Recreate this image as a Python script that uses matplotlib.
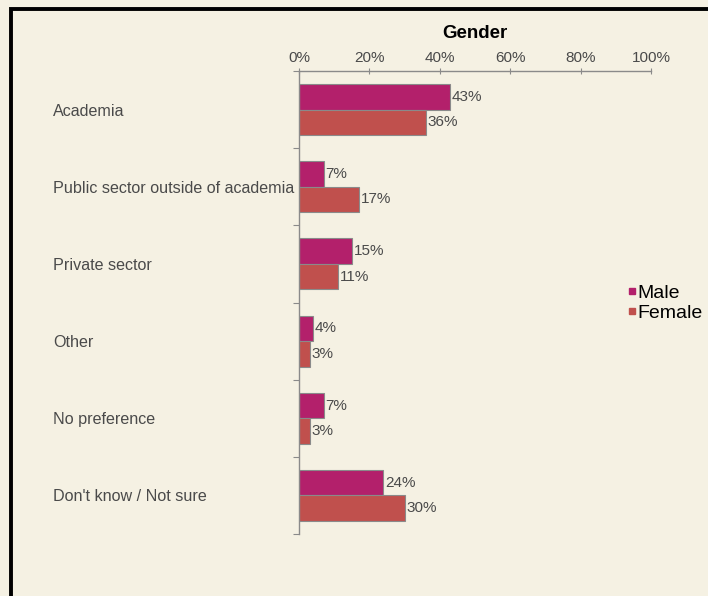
import matplotlib
matplotlib.use("Agg")
import matplotlib.pyplot as plt
from matplotlib.patches import Rectangle
from matplotlib.lines import Line2D
import numpy as np

categories = ["Academia", "Public sector outside of academia", "Private sector",
              "Other", "No preference", "Don't know / Not sure"]
male = [43, 7, 15, 4, 7, 24]
female = [36, 17, 11, 3, 3, 30]
xticks = [0, 20, 40, 60, 80, 100]
xtick_labels = ["0%", "20%", "40%", "60%", "80%", "100%"]
series_names = ["Male", "Female"]

bg = "#F5F1E3"
c_male = "#B3206B"
c_female = "#C0504D"
txt = "#4a4a4a"

plt.rcParams['font.family'] = ['Liberation Sans', 'DejaVu Sans']

W, H = 708, 596
fig = plt.figure(figsize=(W/100, H/100), dpi=100, facecolor=bg)
ax = fig.add_axes([299/W, 1-534/H, (651-299)/W, (534-71)/H])
ax.set_facecolor(bg)

y = np.arange(len(categories))
h = 0.33
ax.barh(y - h/2, male, height=h, color=c_male, edgecolor="#8a8a8a", linewidth=0.8)
ax.barh(y + h/2, female, height=h, color=c_female, edgecolor="#8a8a8a", linewidth=0.8)

for i in range(len(categories)):
    ax.text(male[i] + 0.5, y[i] - h/2, f"{male[i]}%", va="center", ha="left",
            fontsize=11, color=txt)
    ax.text(female[i] + 0.5, y[i] + h/2, f"{female[i]}%", va="center", ha="left",
            fontsize=11, color=txt)

ax.set_xlim(0, 100)
ax.set_ylim(len(categories) - 0.5, -0.5)
ax.xaxis.tick_top()
ax.set_xticks(xticks)
ax.set_xticklabels(xtick_labels, fontsize=11, color=txt)
ax.tick_params(axis='x', direction='inout', length=5, color="#8a8a8a", pad=2)

ax.set_yticks(np.arange(len(categories) + 1) - 0.5)
ax.set_yticklabels([])
ax.tick_params(axis='y', which='major', direction='out', length=4, color="#8a8a8a")
ax.set_yticks(y, minor=True)
ax.set_yticklabels(categories, minor=True, fontsize=11.6, color=txt, ha='left')
ax.tick_params(axis='y', which='minor', length=0, pad=(299-53)*0.72)

for s in ["right", "bottom"]:
    ax.spines[s].set_visible(False)
for s in ["left", "top"]:
    ax.spines[s].set_color("#8a8a8a")
    ax.spines[s].set_linewidth(1.0)

fig.text(475/W, 1-34/H, "Gender", ha="center", va="center", fontsize=13.5,
         fontweight="bold", color="black")

handles = [Line2D([], [], marker='s', linestyle='none', markersize=4, color=c) for c in (c_male, c_female)]
fig.legend(handles, series_names, loc="center left", bbox_to_anchor=(629/W, 1-303/H),
           frameon=False, fontsize=14, handlelength=0.35, handletextpad=0.1,
           labelspacing=0.12, borderaxespad=0, borderpad=0)

fig.patches.append(Rectangle((10.5/W, -0.1), 1.2, 1 - 8.5/H + 0.1, transform=fig.transFigure,
                             fill=False, edgecolor="black", linewidth=2.8))

fig.savefig("out.png", dpi=100, facecolor=bg)
